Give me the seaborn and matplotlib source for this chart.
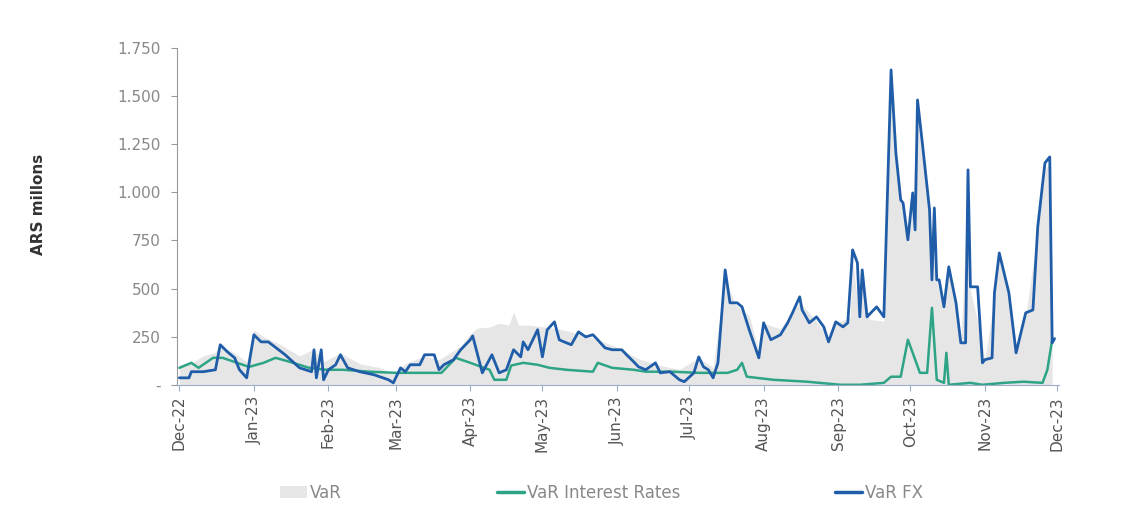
import pandas as pd
import seaborn as sns
import matplotlib.pyplot as plt
import matplotlib.dates as mdates
from matplotlib.patches import Patch
from matplotlib.lines import Line2D
from matplotlib.ticker import FuncFormatter

# Days counted from the start date, values in ARS millions
start_date = "2022-12-01"

var_days = [0, 6, 10, 15, 17, 23, 28, 31, 35, 42, 50, 56, 60, 67, 75, 83, 89, 94, 102, 108,
            117, 121, 124, 129, 133, 137, 139, 141, 146, 152, 158, 166, 175, 183, 191, 200, 208,
            216, 222, 227, 231, 237, 241, 243, 250, 258, 265, 270, 273, 279, 280, 283, 284, 287,
            293, 296, 298, 301, 303, 305, 307, 312, 315, 318, 320, 325, 328, 329, 333, 335, 339,
            341, 345, 348, 352, 357, 360, 362, 363]
var_total = [100, 120, 150, 170, 205, 165, 120, 285, 250, 210, 150, 185, 120, 165, 110, 90, 60, 110, 150, 130,
             200, 265, 295, 300, 320, 310, 380, 310, 310, 300, 290, 265, 230, 190, 135, 100, 80,
             140, 90, 560, 420, 360, 175, 320, 290, 430, 330, 240, 320, 350, 650, 330, 560, 340,
             330, 1560, 1150, 920, 730, 960, 1440, 880, 530, 400, 590, 220, 1060, 490, 280, 130, 460,
             660, 460, 170, 360, 800, 1120, 1150, 230]

ir_days = [0, 5, 8, 14, 18, 24, 29, 35, 40, 46, 54, 61, 68, 79, 90, 101, 109, 115, 121, 129,
           131, 136, 138, 143, 149, 154, 161, 172, 174, 180, 189, 194, 205, 216, 228, 232, 234,
           236, 247, 261, 275, 283, 293, 296, 300, 303, 305, 308, 311, 313, 315, 318, 319, 320,
           329, 334, 343, 351, 359, 361, 363]
ir_var = [88, 114, 88, 140, 140, 114, 93, 114, 140, 119, 88, 78, 78, 68, 62, 62, 62, 140, 114, 78,
          26, 26, 100, 114, 104, 88, 78, 68, 114, 88, 78, 68, 68, 62, 62, 78, 114,
          42, 26, 16, 0, 0, 10, 42, 42, 234, 166, 62, 62, 400, 26, 10, 166, 0,
          10, 0, 10, 16, 10, 78, 234]

fx_days = [0, 4, 5, 10, 15, 17, 20, 23, 25, 28, 31, 34, 37, 44, 50, 55, 56, 57, 59, 60,
           62, 65, 67, 70, 75, 81, 87, 89, 92, 94, 96, 100, 102, 106, 108, 110, 114, 117, 121, 122,
           126, 130, 133, 136, 139, 142, 143, 145, 149, 151, 153, 156, 158, 160, 163, 166, 169, 172,
           174, 177, 180, 184, 186, 189, 191, 194, 198, 200, 204, 208, 210, 214, 216, 218, 220, 222,
           224, 227, 229, 232, 234, 237, 241, 243, 246, 250, 253, 255, 258, 259, 262, 265, 268, 270,
           273, 276, 278, 280, 282, 283, 284, 286, 290, 293, 296, 298, 300, 301, 303, 305, 306, 307,
           309, 312, 313, 314, 315, 316, 318, 320, 323, 325, 327, 328, 329, 332, 334, 335, 338, 339,
           341, 345, 348, 352, 355, 357, 360, 362, 363, 364]
fx_var = [36, 36, 68, 68, 78, 208, 171, 140, 78, 36, 260, 223, 223, 156, 88, 68, 182, 36, 182, 26,
          78, 104, 156, 88, 68, 52, 26, 10, 88, 68, 104, 104, 156, 156, 78, 104, 130, 182, 234, 254,
          62, 156, 62, 78, 182, 145, 223, 182, 286, 145, 286, 327, 234, 223, 208, 275, 249, 260,
          234, 192, 182, 182, 156, 119, 93, 78, 114, 62, 68, 26, 16, 62, 145, 93, 78, 36,
          114, 597, 426, 426, 405, 286, 140, 322, 234, 260, 322, 374, 457, 389, 322, 353, 301, 223,
          327, 301, 322, 701, 634, 353, 597, 353, 405, 353, 1636, 1205, 961, 945, 753, 997, 805, 1480,
          1257, 909, 545, 919, 545, 545, 405, 613, 426, 218, 218, 1117, 509, 509, 114, 130, 140, 478,
          685, 478, 166, 374, 389, 820, 1153, 1184, 218, 240]

month_ticks = pd.date_range("2022-12-01", "2023-12-01", freq="MS")

c_var = "#e6e6e6"
c_ir = "#2ea487"
c_fx = "#1f5da8"

base = pd.Timestamp(start_date)
df_var = pd.DataFrame({"Date": base + pd.to_timedelta(var_days, unit="D"), "VaR": var_total})
df_ir = pd.DataFrame({"Date": base + pd.to_timedelta(ir_days, unit="D"), "VaR Interest Rates": ir_var})
df_fx = pd.DataFrame({"Date": base + pd.to_timedelta(fx_days, unit="D"), "VaR FX": fx_var})

sns.set_style("white")
plt.rcParams["font.family"] = ["DejaVu Sans"]

fig = plt.figure(figsize=(11.27, 5.11), dpi=100)
ax = fig.add_axes([0.157, 0.247, 0.783, 0.659])

# grey area for total VaR
ax.fill_between(df_var["Date"], 0, df_var["VaR"], color=c_var, linewidth=0)
sns.lineplot(data=df_ir, x="Date", y="VaR Interest Rates", color=c_ir, linewidth=1.8, ax=ax)
sns.lineplot(data=df_fx, x="Date", y="VaR FX", color=c_fx, linewidth=2.0, ax=ax)

ax.set_ylim(0, 1750)
ax.set_yticks(range(0, 1751, 250))
ax.yaxis.set_major_formatter(FuncFormatter(lambda v, p: "-" if v == 0 else f"{int(v):,}".replace(",", ".")))
ax.set_xlim(pd.Timestamp("2022-11-30"), pd.Timestamp("2023-12-02"))
ax.set_xticks(month_ticks)
ax.xaxis.set_major_formatter(mdates.DateFormatter("%b-%y"))
plt.setp(ax.get_xticklabels(), rotation=90)

ax.tick_params(axis="y", length=4, color="#999999", labelsize=11, labelcolor="#888888", pad=8,
               direction="out", left=True)
ax.tick_params(axis="x", length=4, color="#9bb0c8", labelsize=11, labelcolor="#555555", pad=4,
               direction="out", bottom=True)

for s in ["top", "right"]:
    ax.spines[s].set_visible(False)
ax.spines["left"].set_color("#999999")
ax.spines["bottom"].set_color("#9bb0c8")

ax.set_xlabel("")
ax.set_ylabel("")
fig.text(0.034, 0.60, "ARS millons", rotation=90, fontsize=11, fontweight="bold",
         color="#333333", ha="center", va="center")

handles = [Patch(facecolor=c_var, edgecolor="none"),
           Line2D([0], [0], color=c_ir, linewidth=2.5),
           Line2D([0], [0], color=c_fx, linewidth=2.5)]
labels = ["VaR", "VaR Interest Rates", "VaR FX"]
fig.legend(handles, labels, loc="center", bbox_to_anchor=(0.534, 0.035), ncol=3, frameon=False,
           fontsize=12, columnspacing=9.3, handlelength=1.6, handletextpad=0.2,
           labelcolor="#888888")

fig.savefig("out.png", dpi=100)
